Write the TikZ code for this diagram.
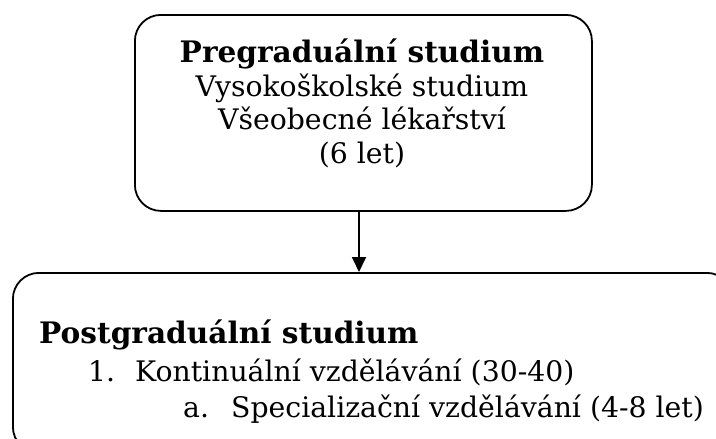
\documentclass[tikz,border=0pt]{standalone}
\usepackage{fontspec}
\setmainfont{DejaVu Serif}
\usetikzlibrary{arrows.meta}
\begin{document}
\begin{tikzpicture}[x=1pt,y=1pt,
  box/.style={draw=black, line width=1.8pt, rounded corners=26pt, inner sep=0pt},
  txt/.style={font=\fontsize{28.3}{34}\selectfont, inner sep=0pt},
  btxt/.style={font=\fontsize{29.6}{34}\selectfont\bfseries, inner sep=0pt},
  conn/.style={line width=1.8pt, -{Triangle[length=15pt,width=14pt]}}]
\useasboundingbox (0,0) rectangle (716,-439);
\clip (0,0) rectangle (716,-439);
\node[box, minimum width=457pt, minimum height=196pt, anchor=north west] (pre) at (134,-14) {};
\node[btxt, anchor=base] (t1) at (362,-62) {Pregraduální studium};
\node[txt, anchor=base] (t2) at (362,-96) {Vysokoškolské studium};
\node[txt, anchor=base] (t3) at (362,-129) {Všeobecné lékařství};
\node[txt, anchor=base] (t4) at (362,-163) {(6 let)};
\node[box, minimum width=720pt, minimum height=180pt, anchor=north west] (post) at (12,-272) {};
\node[btxt, anchor=base west] (b1) at (39,-343) {Postgraduální studium};
\node[txt, anchor=base west] (b2n) at (88,-381) {1.};
\node[txt, anchor=base west] (b2) at (135,-381) {Kontinuální vzdělávání (30-40)};
\node[txt, anchor=base west] (b3a) at (183,-417) {a.};
\node[txt, anchor=base west] (b3) at (231,-417) {Specializační vzdělávání (4-8 let)};
\draw[conn] (pre.south -| 359,0) -- (post.north -| 359,0);
\end{tikzpicture}
\end{document}
